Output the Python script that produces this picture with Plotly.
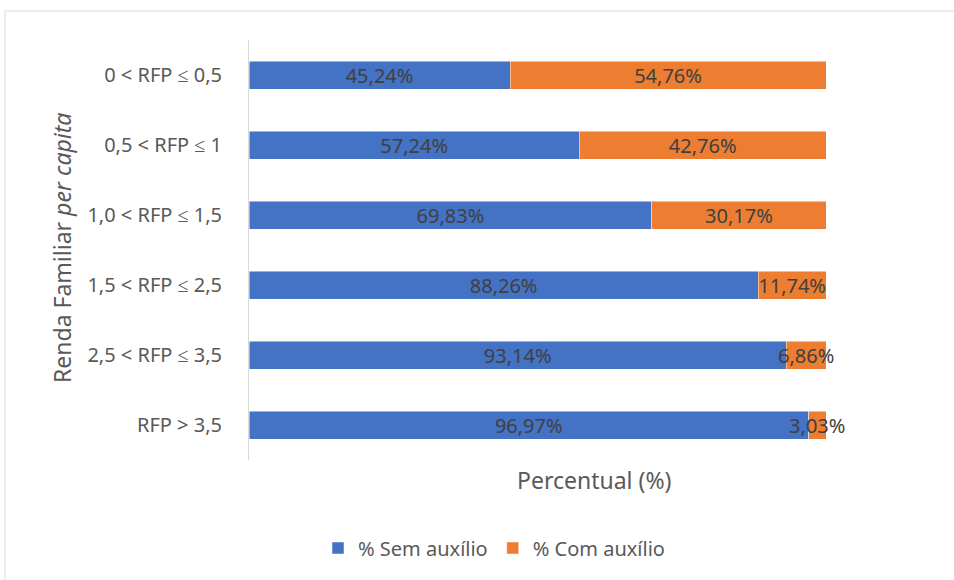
import plotly.graph_objects as go

categories = ["0 < RFP ≤ 0,5", "0,5 < RFP ≤ 1", "1,0 < RFP ≤ 1,5",
              "1,5 < RFP ≤ 2,5", "2,5 < RFP ≤ 3,5", "RFP > 3,5"]
sem_auxilio = [45.24, 57.24, 69.83, 88.26, 93.14, 96.97]
com_auxilio = [54.76, 42.76, 30.17, 11.74, 6.86, 3.03]
series_names = ["% Sem auxílio", "% Com auxílio"]
colors = ["#4472C4", "#ED7D31"]

def fmt(v):
    return f"{v:.2f}".replace(".", ",") + "%"

FONT = "Noto Sans"
W, H = 954, 580
L, R, T, B = 249, 128, 40, 120
pw, ph = W - L - R, H - T - B

fig = go.Figure()
for name, vals, col in zip(series_names, [sem_auxilio, com_auxilio], colors):
    fig.add_trace(go.Bar(
        y=categories, x=vals, name=name, orientation="h",
        marker=dict(color=col, line=dict(color="rgba(255,255,255,0.6)", width=0.8)),
        text=[fmt(v) for v in vals], textposition="inside",
        insidetextanchor="middle", textangle=0, constraintext="none",
        textfont=dict(family=FONT, size=20, color="#404040"),
        cliponaxis=False,
    ))

def px(xp):
    return (xp - L) / pw

def py(yp):
    return (H - B - yp) / ph

fig.update_layout(
    width=W, height=H, barmode="stack", bargap=0.6,
    margin=dict(l=L, r=R, t=T, b=B),
    plot_bgcolor="white", paper_bgcolor="white",
    font=dict(family=FONT, color="#595959"),
    xaxis=dict(range=[0, 100], showticklabels=False, showgrid=False,
               zeroline=False, showline=False, ticks=""),
    yaxis=dict(autorange="reversed", showgrid=False, zeroline=False,
               showline=True, linecolor="#D9D9D9", linewidth=1,
               ticks="", ticklabelstandoff=22,
               tickfont=dict(family=FONT, size=20, color="#595959")),
    showlegend=True,
    legend=dict(orientation="h", x=px(494), xanchor="center",
                y=py(548), yanchor="middle", traceorder="normal",
                font=dict(family=FONT, size=20, color="#595959"),
                itemwidth=30, tracegroupgap=0),
    shapes=[dict(type="rect", xref="paper", yref="paper",
                 x0=px(5), x1=px(962), y0=py(588), y1=py(11),
                 line=dict(color="#D9D9D9", width=1), layer="below")],
    annotations=[
        dict(text="Percentual (%)", xref="paper", yref="paper",
             x=px(594), y=py(480), xanchor="center", yanchor="middle",
             showarrow=False, font=dict(family=FONT, size=23, color="#595959")),
        dict(text="Renda Familiar <i>per capita</i>", xref="paper", yref="paper",
             x=px(62), y=py(248), xanchor="center", yanchor="middle",
             textangle=-90, showarrow=False,
             font=dict(family=FONT, size=23, color="#595959")),
    ],
)

fig.write_html("out.html")
